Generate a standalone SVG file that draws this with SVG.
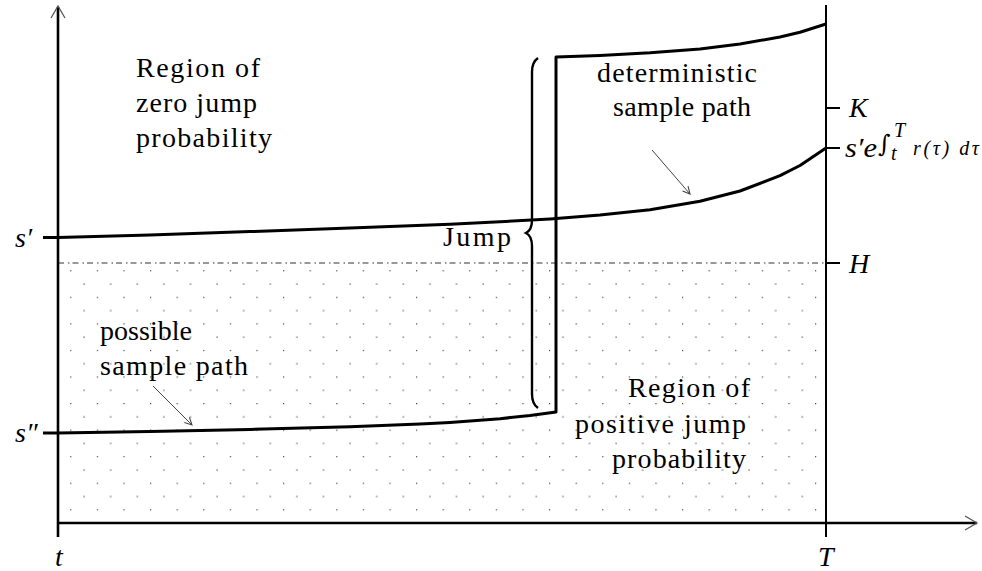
<svg xmlns="http://www.w3.org/2000/svg" width="982" height="571" viewBox="0 0 982 571">
<defs>
<style>
.t{font-family:"Liberation Serif","DejaVu Serif",serif;font-size:28px;fill:#000}
.m{font-family:"Liberation Serif","DejaVu Serif",serif;font-style:italic;font-size:28px;fill:#000}
.ms{font-family:"Liberation Serif","DejaVu Serif",serif;font-style:italic;font-size:20px;fill:#000}
.path{fill:none;stroke:#000;stroke-width:3;stroke-linejoin:round}
.axis{fill:none;stroke:#000;stroke-width:2.6}
.tick{fill:none;stroke:#000;stroke-width:2}
.head{fill:none;stroke:#555;stroke-width:1.3}
.ptr{fill:none;stroke:#444;stroke-width:1}
</style>
<pattern id="dots" x="70.2" y="270.2" width="26.6" height="26.56" patternUnits="userSpaceOnUse">
<rect x="0" y="0" width="1.2" height="1.2" fill="#444"/>
<rect x="13.3" y="13.28" width="1.2" height="1.2" fill="#444"/>
</pattern>
<marker id="ah" viewBox="0 0 10 10" refX="9" refY="5" markerWidth="9" markerHeight="9" markerUnits="userSpaceOnUse" orient="auto">
<path d="M1,1 L9,5 L1,9" fill="none" stroke="#444" stroke-width="1.2"/>
</marker>
</defs>
<rect width="982" height="571" fill="#fff"/>
<g id="region-positive">
<rect x="59" y="264" width="767" height="258" fill="url(#dots)"/>
<line x1="58" y1="263" x2="826" y2="263" stroke="#777" stroke-width="1.3" stroke-dasharray="6 4 1.5 3"/>
</g>
<g id="axes">
<line class="axis" x1="58" y1="7" x2="58" y2="537"/>
<line class="axis" x1="57" y1="523" x2="977" y2="523"/>
<path class="head" d="M51,18 L58,6 L65,18"/>
<path class="head" d="M965,516 L977,523 L965,530"/>
<line class="tick" x1="826" y1="5" x2="826" y2="537"/>
<line class="tick" x1="826" y1="108" x2="840" y2="108"/>
<line class="tick" x1="826" y1="148" x2="840" y2="148"/>
<line class="tick" x1="826" y1="263" x2="840" y2="263"/>
</g>
<g id="connectors">
<path id="deterministic-path" class="path" d="M43,237.5 L58,237.4 L150,234.9 L250,231.6 L350,228.1 L450,224.2 L500,221.8 L550,218.9 L600,215.1 L650,209.7 L700,201.3 L740,191 L780,175.7 L800,165.5 L826,148"/>
<path id="jump-path" class="path" d="M43,433 L58,433 L150,431.4 L250,429.4 L350,426.8 L420,424 L450,422.4 L500,418.7 L530,415.5 L556,412 L556,57 L600,55.4 L650,52.8 L700,48.9 L740,44.1 L780,37 L800,32.2 L826,24"/>
<path id="jump-brace" fill="none" stroke="#000" stroke-width="2.4" d="M538,58 Q532,62 532,72 L532,220 Q532,230 526,233 Q532,236 532,246 L532,394 Q532,404 538,408"/>
<line class="ptr" x1="652" y1="150" x2="690" y2="194" marker-end="url(#ah)"/>
<line class="ptr" x1="153" y1="386" x2="192" y2="425" marker-end="url(#ah)"/>
</g>
<g id="zero-region-label">
<text class="t" x="136" y="77" textLength="124" lengthAdjust="spacing">Region of</text>
<text class="t" x="136" y="112" textLength="121" lengthAdjust="spacing">zero jump</text>
<text class="t" x="136" y="147" textLength="136" lengthAdjust="spacing">probability</text>
</g>
<g id="deterministic-label">
<text class="t" x="597" y="82" textLength="160" lengthAdjust="spacing">deterministic</text>
<text class="t" x="613" y="116" textLength="138" lengthAdjust="spacing">sample path</text>
</g>
<g id="possible-label">
<text class="t" x="100" y="340" textLength="92" lengthAdjust="spacing">possible</text>
<text class="t" x="100" y="375" textLength="148" lengthAdjust="spacing">sample path</text>
</g>
<g id="positive-region-label">
<text class="t" x="628" y="397" textLength="122" lengthAdjust="spacing">Region of</text>
<text class="t" x="575" y="433" textLength="171" lengthAdjust="spacing">positive jump</text>
<text class="t" x="612" y="468" textLength="134" lengthAdjust="spacing">probability</text>
</g>
<g id="jump-label">
<text class="t" x="443" y="246" textLength="68" lengthAdjust="spacing">Jump</text>
</g>
<g id="axis-labels">
<text class="m" x="15" y="247">s′</text>
<text class="m" x="15" y="442">s″</text>
<text class="m" x="55" y="566">t</text>
<text class="m" x="818" y="566">T</text>
<text class="m" x="849" y="117">K</text>
<text class="m" x="849" y="273">H</text>
<text class="m" x="845" y="157" textLength="32" lengthAdjust="spacingAndGlyphs">s′e</text>
<text style="font-family:'DejaVu Serif',serif;font-size:24px" x="878" y="152">∫</text>
<text class="ms" x="891" y="160">t</text>
<text class="ms" x="894" y="137">T</text>
<text class="ms" x="913" y="155" textLength="66" lengthAdjust="spacing">r(τ) dτ</text>
</g>
</svg>
